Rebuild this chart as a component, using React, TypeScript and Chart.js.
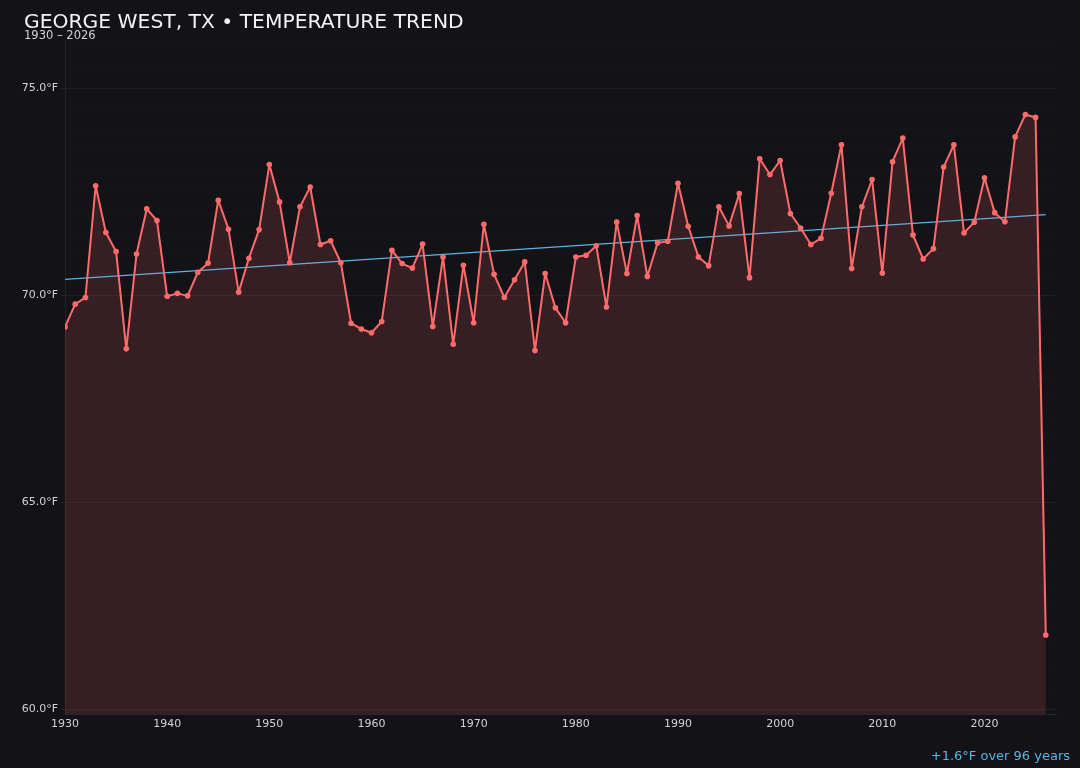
import { useEffect, useRef } from "react";
import { Chart, registerables } from "chart.js";

Chart.register(...registerables);

const FIRST_YEAR = 1930;

// annual mean temperature, °F, 1930 – 2026
const temps = [
  69.23, 69.78, 69.94, 72.64, 71.51, 71.05, 68.7, 70.99, 72.08, 71.8,
  69.97, 70.04, 69.98, 70.55, 70.77, 72.29, 71.59, 70.07, 70.89, 71.58,
  73.15, 72.25, 70.78, 72.13, 72.61, 71.22, 71.31, 70.78, 69.32, 69.18,
  69.09, 69.36, 71.08, 70.76, 70.65, 71.23, 69.24, 70.92, 68.81, 70.72,
  69.33, 71.71, 70.5, 69.94, 70.37, 70.8, 68.66, 70.52, 69.69, 69.33,
  70.92, 70.96, 71.19, 69.71, 71.76, 70.52, 71.92, 70.45, 71.26, 71.3,
  72.7, 71.66, 70.92, 70.71, 72.13, 71.67, 72.45, 70.42, 73.29, 72.91,
  73.25, 71.97, 71.62, 71.22, 71.37, 72.46, 73.63, 70.64, 72.13, 72.79,
  70.53, 73.22, 73.79, 71.45, 70.87, 71.12, 73.09, 73.63, 71.5, 71.76,
  72.83, 71.99, 71.77, 73.82, 74.36, 74.29, 61.79,
];

const trendYears = [1930, 2026];
const trendTemps = [70.38, 71.94];

const Y_MIN = 59.88;
const Y_MAX = 76.16;
const X_MIN = 1930;
const X_MAX = 2027;

const BG = "#131217";
const LINE = "#ff6b6b";
const TREND = "#5ab4e6";
const FONT = "'DejaVu Sans', sans-serif";

const TempChart = () => {
  const canvasRef = useRef<HTMLCanvasElement | null>(null);

  useEffect(() => {
    if (!canvasRef.current) return;
    const isMajor = (v: number) => Math.abs(v % 5) < 1e-6;

    const chart = new Chart(canvasRef.current, {
      type: "line",
      data: {
        datasets: [
          {
            label: "Temperature",
            data: temps.map((t, i) => ({ x: FIRST_YEAR + i, y: t })),
            borderColor: LINE,
            backgroundColor: "rgba(255,107,107,0.15)",
            borderWidth: 2,
            borderJoinStyle: "round",
            pointRadius: 2.8,
            pointBackgroundColor: LINE,
            pointBorderWidth: 0,
            fill: "start",
            tension: 0,
            order: 1,
          },
          {
            label: "Trend",
            data: trendYears.map((yr, i) => ({ x: yr, y: trendTemps[i] })),
            borderColor: TREND,
            borderWidth: 1.3,
            pointRadius: 0,
            fill: false,
            order: 2,
          },
        ],
      },
      options: {
        responsive: true,
        maintainAspectRatio: false,
        animation: false,
        layout: { padding: { left: 20, right: 24, top: 40, bottom: 34 } },
        plugins: {
          legend: { display: false },
          tooltip: { enabled: false },
        },
        scales: {
          x: {
            type: "linear",
            min: X_MIN,
            max: X_MAX,
            afterFit: (scale: any) => {
              scale.height = 20;
            },
            grid: { display: false, drawTicks: false },
            border: { display: true, color: "#27262c", width: 1 },
            ticks: {
              stepSize: 10,
              includeBounds: false,
              padding: 4,
              color: "#d2d2d6",
              font: { family: FONT, size: 11 },
              callback: (v: string | number) => String(v),
            },
          },
          y: {
            min: Y_MIN,
            max: Y_MAX,
            afterFit: (scale: any) => {
              scale.width = 45;
            },
            grid: {
              color: (ctx: any) =>
                ctx.tick && isMajor(ctx.tick.value) ? "rgba(255,255,255,0.05)" : "rgba(255,255,255,0.014)",
              tickColor: (ctx: any) =>
                ctx.tick && isMajor(ctx.tick.value) ? "rgba(255,255,255,0.07)" : "rgba(0,0,0,0)",
              tickLength: 4,
            },
            border: { display: true, color: "rgba(255,255,255,0.07)" },
            ticks: {
              stepSize: 0.5,
              includeBounds: false,
              autoSkip: false,
              padding: 3,
              color: "#d2d2d6",
              font: { family: FONT, size: 11 },
              callback: (v: string | number) => (isMajor(Number(v)) ? `${Number(v).toFixed(1)}°F` : ""),
            },
          },
        },
      },
    });

    return () => {
      chart.destroy();
    };
  }, []);

  return (
    <div style={{ position: "fixed", left: 0, top: 0, width: 1080, height: 768, background: BG, fontFamily: FONT }}>
      <canvas ref={canvasRef} />
      <div style={{ position: "absolute", left: 24, top: 10.5, fontSize: 20.3, lineHeight: "20px", color: "#f2f2f4", whiteSpace: "nowrap" }}>
        GEORGE WEST, TX • TEMPERATURE TREND
      </div>
      <div style={{ position: "absolute", left: 24, top: 29.5, fontSize: 11.5, lineHeight: "11.5px", color: "#d2d2d6", whiteSpace: "nowrap" }}>
        1930 – 2026
      </div>
      <div style={{ position: "absolute", right: 10, top: 749, fontSize: 13, lineHeight: "13px", color: TREND, whiteSpace: "nowrap" }}>
        +1.6°F over 96 years
      </div>
    </div>
  );
};

export default function App() {
  return <TempChart />;
}
